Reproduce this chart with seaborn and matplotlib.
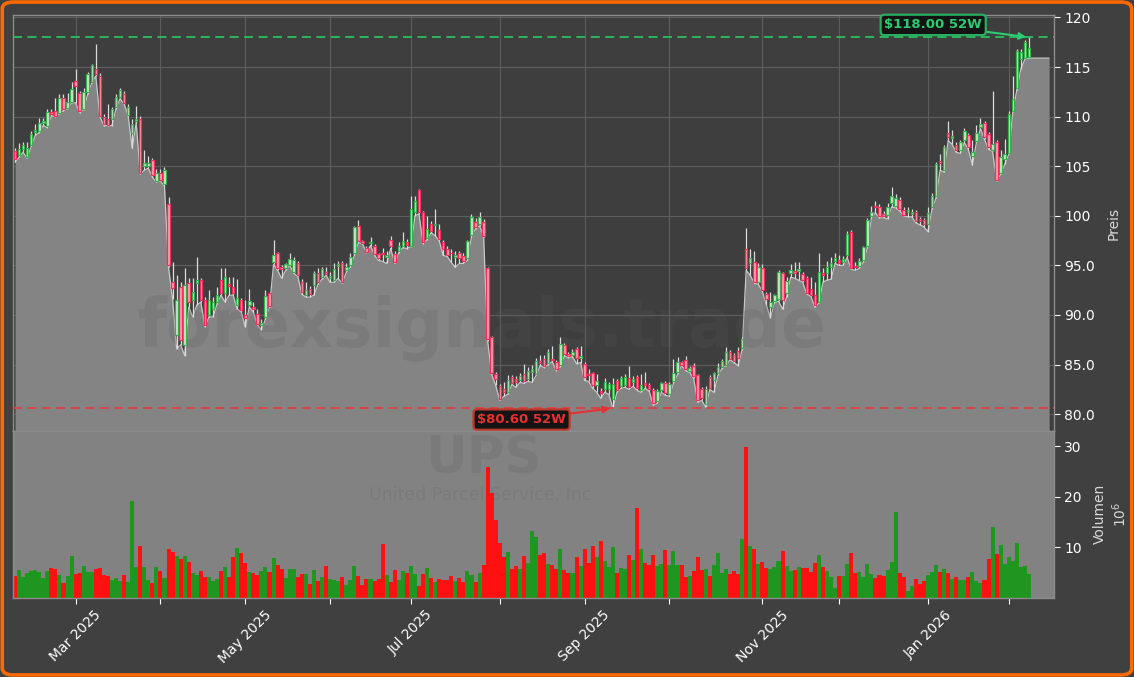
import numpy as np
import pandas as pd
import matplotlib
matplotlib.use("Agg")
import matplotlib.pyplot as plt
import seaborn as sns
from matplotlib.patches import FancyBboxPatch
from matplotlib.ticker import FixedLocator, FixedFormatter, FuncFormatter

# ---------------- data (UPS daily, Feb 2025 - Feb 2026) ----------------
opens = [
    106.5, 106.1, 106.7, 105.9, 107.1, 108.5, 108.6, 109.4, 109.1, 110.5,
    110.6, 110.4, 111.9, 110.9, 111.5, 113.6, 112.4, 110.8, 112.5, 113.5,
    114.8, 114.1, 110.0, 109.8, 109.8, 111.0, 112.0, 112.3, 110.2, 108.4,
    109.6, 109.8, 105.0, 105.0, 105.6, 103.5, 104.3, 103.2, 101.2, 93.3,
    88.0, 92.8, 87.0, 93.2, 91.5, 93.2, 93.5, 91.5, 90.0, 90.6,
    91.3, 93.5, 92.2, 93.1, 92.8, 91.0, 91.5, 90.0, 91.0, 90.8,
    90.1, 89.0, 89.8, 92.2, 95.3, 96.2, 94.8, 94.7, 95.0, 94.3,
    95.2, 93.3, 92.0, 92.6, 93.0, 94.2, 93.8, 94.3, 93.7, 93.5,
    94.9, 95.2, 94.5, 95.0, 96.2, 99.0, 97.5, 96.8, 97.3, 97.0,
    96.1, 96.2, 95.8, 97.6, 96.1, 96.5, 97.0, 97.4, 97.0, 100.4,
    102.6, 100.4, 97.8, 99.2, 99.1, 98.6, 97.4, 96.7, 96.3, 95.8,
    96.2, 95.9, 95.7, 98.1, 99.4, 99.2, 99.4, 94.7, 87.8, 84.0,
    82.8, 82.5, 82.2, 83.7, 83.5, 83.4, 84.0, 83.5, 84.3, 84.0,
    85.4, 85.6, 85.2, 85.6, 85.3, 85.0, 87.0, 86.1, 86.0, 86.6,
    85.7, 85.1, 84.0, 84.1, 82.9, 82.3, 82.5, 82.5, 81.5, 83.3,
    82.8, 82.9, 83.6, 83.2, 83.7, 82.4, 83.1, 82.9, 82.4, 81.3,
    82.4, 83.1, 82.0, 83.3, 84.3, 85.3, 85.5, 84.4, 84.9, 83.9,
    82.5, 81.0, 83.7, 83.4, 84.1, 84.8, 85.0, 86.3, 86.0, 86.4,
    86.7, 96.7, 95.2, 95.3, 93.3, 94.7, 92.1, 90.8, 91.4, 91.6,
    94.2, 92.2, 94.2, 94.4, 94.4, 94.1, 93.7, 92.6, 92.0, 91.3,
    94.2, 94.2, 94.8, 95.4, 95.5, 95.3, 96.0, 98.4, 94.9, 94.9,
    95.5, 97.0, 100.0, 101.0, 100.9, 100.2, 100.1, 101.3, 101.0, 101.6,
    100.6, 100.4, 100.2, 100.4, 99.7, 99.6, 99.2, 100.9, 102.0, 105.5,
    104.6, 108.4, 107.8, 107.1, 106.6, 107.6, 108.1, 106.0, 107.5, 109.0,
    109.4, 108.2, 106.6, 107.4, 104.3, 105.7, 106.3, 110.6, 112.9, 115.8,
    115.9, 116.0,
]
highs = [
    106.8, 107.3, 107.4, 107.4, 108.6, 109.3, 109.9, 109.9, 110.8, 110.8,
    111.9, 112.3, 112.3, 112.4, 113.5, 114.8, 112.6, 112.9, 114.5, 115.3,
    117.3, 114.4, 110.3, 111.3, 111.0, 112.3, 112.9, 112.6, 111.3, 109.8,
    111.1, 110.1, 106.6, 106.0, 105.8, 104.7, 104.7, 104.9, 101.9, 95.3,
    94.0, 93.3, 94.7, 93.7, 93.7, 95.8, 93.7, 91.8, 92.5, 91.8,
    92.8, 94.7, 94.7, 93.8, 93.8, 93.6, 91.7, 91.5, 92.6, 91.3,
    90.6, 89.6, 92.5, 92.3, 97.6, 96.4, 95.0, 95.2, 96.3, 95.8,
    95.4, 93.6, 93.3, 92.9, 94.4, 94.7, 94.8, 94.8, 94.3, 95.2,
    95.4, 95.4, 95.2, 96.2, 99.0, 99.6, 97.6, 97.0, 97.9, 97.2,
    96.3, 96.8, 96.5, 98.0, 96.5, 97.4, 98.4, 97.7, 102.0, 102.0,
    102.7, 100.5, 100.0, 99.5, 100.7, 99.2, 97.6, 97.0, 96.7, 96.5,
    96.5, 96.2, 97.6, 100.2, 99.8, 100.4, 99.7, 94.8, 87.9, 84.2,
    83.0, 83.2, 83.9, 83.9, 83.8, 84.1, 85.1, 84.8, 85.0, 85.7,
    86.0, 86.0, 86.6, 86.9, 85.5, 87.8, 87.2, 86.3, 86.6, 86.8,
    86.9, 85.3, 84.6, 84.3, 84.0, 82.6, 83.6, 83.2, 83.6, 83.5,
    83.8, 84.0, 84.9, 83.8, 83.9, 84.0, 84.2, 83.1, 82.6, 82.5,
    83.2, 83.3, 83.2, 85.6, 85.8, 85.4, 85.9, 84.9, 85.2, 84.0,
    82.7, 82.8, 83.9, 84.3, 85.2, 85.6, 86.8, 86.5, 86.2, 86.8,
    87.8, 98.8, 96.7, 96.5, 95.2, 95.1, 92.3, 92.3, 92.1, 94.5,
    94.3, 93.8, 95.1, 95.3, 95.3, 94.3, 93.9, 93.8, 93.3, 96.2,
    94.7, 95.4, 95.8, 96.3, 96.0, 95.9, 98.5, 98.6, 95.3, 95.7,
    97.0, 99.8, 101.0, 101.5, 101.2, 100.5, 101.3, 102.9, 102.2, 101.9,
    100.9, 100.9, 100.7, 100.6, 99.9, 99.8, 100.9, 102.3, 105.4, 106.2,
    107.1, 109.6, 108.7, 107.4, 107.6, 108.9, 108.4, 107.6, 109.2, 109.9,
    109.6, 108.5, 112.6, 107.6, 106.6, 107.7, 110.6, 114.1, 116.8, 116.8,
    117.7, 118.0,
]
lows = [
    105.4, 105.9, 106.4, 105.8, 107.0, 108.1, 108.4, 109.1, 108.9, 110.1,
    110.0, 110.3, 110.6, 110.8, 111.4, 111.4, 110.4, 110.7, 112.3, 113.4,
    114.1, 110.0, 109.1, 109.1, 109.1, 110.8, 111.8, 111.3, 110.1, 106.8,
    109.4, 104.2, 104.6, 104.8, 103.9, 103.4, 103.5, 103.0, 94.8, 91.6,
    86.6, 87.0, 85.9, 90.8, 89.8, 91.0, 91.3, 88.8, 89.8, 89.8,
    91.1, 92.0, 91.3, 92.0, 92.0, 90.6, 90.3, 88.8, 90.8, 90.3,
    89.0, 88.5, 89.6, 90.8, 95.1, 94.5, 93.7, 94.5, 95.0, 94.2,
    93.9, 92.1, 91.8, 91.8, 92.0, 93.1, 93.6, 94.0, 93.3, 93.3,
    93.7, 93.2, 94.3, 94.8, 96.0, 97.3, 97.2, 96.3, 97.0, 96.0,
    95.5, 95.4, 95.2, 96.7, 95.2, 96.3, 96.8, 96.7, 96.9, 100.0,
    100.2, 97.2, 97.6, 98.3, 98.0, 97.5, 96.0, 95.9, 95.3, 94.8,
    95.2, 95.2, 95.5, 97.9, 98.7, 99.0, 97.9, 87.4, 84.0, 82.9,
    81.4, 81.8, 82.0, 83.0, 82.7, 83.2, 83.1, 83.3, 83.2, 83.9,
    84.9, 84.7, 85.0, 85.3, 84.4, 84.8, 85.9, 85.7, 85.8, 85.1,
    85.2, 83.4, 83.3, 82.6, 82.2, 81.6, 82.2, 82.0, 80.6, 82.2,
    82.6, 82.7, 82.5, 82.8, 82.4, 82.2, 82.6, 82.3, 80.9, 81.1,
    82.2, 81.9, 81.8, 83.1, 84.0, 84.9, 84.4, 84.2, 83.6, 81.2,
    81.4, 80.7, 82.5, 82.2, 83.9, 84.6, 84.9, 85.5, 85.2, 84.9,
    86.5, 94.5, 94.0, 93.2, 93.1, 92.4, 91.0, 89.7, 91.2, 91.4,
    90.6, 91.8, 93.8, 93.7, 93.5, 93.3, 92.1, 91.9, 90.8, 91.2,
    93.3, 93.5, 93.6, 95.2, 95.0, 95.0, 95.8, 94.6, 94.5, 94.7,
    95.3, 96.8, 99.8, 100.3, 99.8, 99.8, 99.7, 100.9, 100.8, 100.5,
    100.0, 99.9, 99.9, 99.3, 99.1, 98.9, 98.4, 100.7, 101.8, 104.6,
    104.4, 107.6, 107.2, 106.4, 106.3, 107.4, 106.7, 105.1, 107.4, 108.8,
    107.7, 106.7, 106.5, 103.5, 104.2, 105.2, 106.2, 110.5, 112.7, 114.8,
    115.8, 115.9,
]
closes = [
    105.7, 106.7, 107.1, 106.8, 108.2, 108.7, 109.4, 109.6, 110.5, 110.3,
    110.1, 111.9, 110.8, 111.5, 112.8, 113.1, 110.6, 112.5, 114.3, 115.2,
    114.3, 110.1, 109.3, 109.2, 110.8, 112.0, 112.7, 111.4, 111.0, 109.3,
    109.8, 104.3, 105.3, 105.3, 104.1, 104.3, 103.6, 104.6, 95.0, 92.7,
    91.5, 87.5, 93.0, 91.3, 92.3, 93.5, 91.5, 89.0, 91.5, 91.3,
    92.0, 92.2, 93.8, 92.9, 92.2, 91.7, 90.5, 89.7, 91.4, 90.6,
    89.1, 89.2, 91.9, 90.9, 96.0, 94.7, 94.6, 95.1, 95.6, 95.5,
    94.0, 92.3, 92.5, 92.1, 94.2, 93.3, 94.6, 94.1, 93.9, 94.6,
    95.1, 93.3, 94.8, 95.8, 98.9, 97.5, 97.3, 96.4, 97.4, 96.1,
    95.7, 96.1, 96.0, 97.0, 95.3, 97.0, 97.5, 97.1, 100.7, 101.5,
    100.4, 97.4, 98.7, 98.5, 99.2, 97.7, 96.7, 96.0, 96.2, 96.0,
    95.7, 95.4, 97.5, 99.9, 98.9, 99.9, 98.0, 87.6, 84.1, 83.5,
    81.5, 82.2, 83.4, 83.1, 83.2, 83.8, 83.3, 84.4, 84.6, 85.4,
    85.2, 84.9, 86.3, 85.5, 84.6, 87.1, 86.1, 85.9, 86.3, 85.7,
    85.9, 83.7, 83.9, 82.9, 83.3, 82.1, 83.2, 83.0, 83.0, 82.4,
    83.6, 83.7, 82.7, 83.5, 82.6, 82.9, 82.9, 82.5, 81.1, 82.3,
    83.1, 82.1, 83.0, 84.1, 85.3, 85.0, 84.6, 84.7, 83.8, 81.4,
    81.6, 82.5, 82.6, 84.1, 84.8, 85.4, 86.3, 85.6, 85.4, 85.7,
    87.6, 94.7, 95.7, 93.3, 94.8, 92.5, 91.6, 91.3, 92.0, 94.3,
    91.5, 93.4, 94.5, 94.2, 94.6, 93.5, 92.2, 92.0, 91.0, 94.3,
    94.0, 94.8, 95.2, 95.7, 95.2, 95.6, 98.2, 94.7, 94.8, 95.4,
    96.9, 99.6, 100.4, 100.9, 100.0, 100.0, 100.9, 102.0, 101.8, 100.7,
    100.1, 100.6, 100.4, 99.5, 99.5, 99.2, 100.3, 102.0, 105.2, 105.3,
    106.9, 107.9, 108.0, 106.6, 107.4, 108.6, 106.9, 106.4, 108.4, 109.3,
    107.9, 106.9, 107.2, 103.6, 105.9, 106.2, 110.3, 111.8, 116.6, 116.5,
    117.5, 116.9,
]
volumes = [  # millions of shares
    4.3, 5.5, 4.1, 4.8, 5.3, 5.5, 5.0, 3.8, 5.3, 5.9, 5.7, 4.5, 2.9, 4.3, 8.3,
    4.6, 4.8, 6.3, 5.1, 5.1, 5.7, 5.9, 4.5, 4.2, 3.5, 3.9, 3.3, 4.5, 3.1, 19.1,
    6.1, 10.2, 6.1, 3.5, 2.8, 6.1, 5.3, 3.9, 9.6, 9.0, 8.3, 7.7, 8.3, 7.1, 4.9,
    4.5, 5.3, 4.1, 4.1, 3.3, 3.7, 5.3, 6.1, 4.1, 8.1, 9.8, 8.8, 6.9, 5.1, 4.9,
    4.5, 5.3, 6.1, 5.1, 7.9, 6.5, 5.7, 3.9, 5.7, 5.7, 4.1, 4.7, 4.7, 2.7, 5.5,
    3.3, 4.1, 6.3, 3.7, 3.5, 3.3, 4.1, 2.5, 3.5, 6.3, 4.3,
    2.5, 3.7, 3.7, 3.3, 3.7, 10.6, 4.5, 3.1, 5.5, 3.5, 5.3, 4.9, 6.3, 4.7, 2.3,
    4.7, 5.9, 3.9, 3.1, 3.7, 3.5, 3.5, 4.3, 3.3, 3.9, 3.1, 5.3, 4.5, 3.1, 4.9,
    6.5, 25.9, 20.7, 15.4, 10.8, 8.1, 9.0, 5.7, 6.3, 5.7, 8.3, 6.9, 13.2, 12.0,
    8.4, 8.8, 6.7, 6.5, 5.7, 9.6, 5.5, 4.9, 4.9, 8.1, 6.3, 9.6, 6.9, 10.2, 8.1,
    11.2, 7.3, 6.1, 10.0, 4.9, 5.9, 5.7, 8.4, 7.5, 17.8, 9.6, 6.9, 6.5, 8.4, 6.3,
    6.7, 9.4, 6.5, 9.2, 6.5, 6.5, 4.1, 4.3, 5.3, 8.1, 5.5, 5.7,
    4.3, 6.5, 8.8, 4.9, 5.7, 4.7, 5.3, 4.7, 11.6, 29.8, 10.2, 9.6, 6.7, 7.1, 5.9,
    5.7, 6.1, 7.3, 9.2, 6.3, 5.3, 5.5, 6.1, 5.9, 5.9, 5.1, 6.9, 8.4, 6.1, 5.3,
    4.1, 1.9, 4.3, 4.3, 6.7, 8.8, 4.9, 5.1, 4.1, 6.7, 4.7, 3.9, 4.5, 4.3, 5.5,
    7.1, 17.0, 4.9, 4.1, 1.3, 2.3, 3.7, 2.7, 3.3, 4.5, 5.1, 6.5, 5.1, 5.7, 4.9,
    3.7, 4.1, 3.5, 3.5, 4.1, 5.1, 3.3, 2.9, 3.5, 7.7, 14.0, 8.6, 10.4, 6.7, 8.1,
    7.3, 10.8, 6.1, 6.3, 4.7,
]
tick_positions = [15, 36, 57, 78, 98, 120, 141, 162, 185, 204, 226, 246]
tick_labels = ["Mar 2025", "", "May 2025", "", "Jul 2025", "", "Sep 2025", "",
               "Nov 2025", "", "Jan 2026", ""]
high_52w = 118.00
low_52w = 80.60
high_idx = 251
low_idx = 148

# ---------------- styling ----------------
BG = "#404040"
AX_BG = "#3e3e3e"
FILL = "#848484"
UP_EDGE, UP_FACE = "#38b04e", "#cfe6cf"
DN_EDGE, DN_FACE = "#f0305c", "#ffa0b2"
VOL_UP, VOL_DN = "#1f961f", "#ff1111"

sns.set_theme(style="dark")
plt.rcParams["font.family"] = ["DejaVu Sans"]

n = len(closes)
df = pd.DataFrame({"i": np.arange(n), "open": opens, "high": highs,
                   "low": lows, "close": closes, "volume": volumes})
df["dir"] = np.where(df["close"] >= df["open"], "up", "down")

fig = plt.figure(figsize=(11.34, 6.77), dpi=100, facecolor=BG)
L = 13 / 1134
W = (1054 - 13) / 1134
ax = fig.add_axes([L, 1 - 431 / 677, W, (431 - 15) / 677])
axv = fig.add_axes([L, 1 - 597.5 / 677, W, (597.5 - 431) / 677], sharex=ax)

ax.set_facecolor(AX_BG)
axv.set_facecolor("#828282")

# area under the lows, carried to the right edge
ymin, ymax = 78.3, 120.25
x_ext = list(df["i"]) + [n + 4]
y_ext = list(df["low"]) + [lows[-1]]
ax.fill_between(x_ext, y_ext, ymin, color=FILL, zorder=1, lw=0)
sns.lineplot(x=x_ext, y=y_ext, ax=ax, color="#c9c9c9", lw=0.9, zorder=1.5)

# watermark
ax.text(0.451, 0.248, "forexsignals.trade", transform=ax.transAxes,
        ha="center", va="center", fontsize=48, fontweight="bold",
        color="#5a5a5a", alpha=0.2, zorder=2)

# candles
up = df["dir"] == "up"
ax.vlines(df["i"], df["low"], df["high"], color="#dcdcdc", lw=0.9, zorder=3)
body_lo = np.minimum(df["open"], df["close"])
body_h = np.maximum(np.abs(df["close"] - df["open"]), 0.08)
ax.bar(df["i"][up], body_h[up], bottom=body_lo[up], width=0.62,
       color=UP_FACE, edgecolor=UP_EDGE, lw=0.9, zorder=4)
ax.bar(df["i"][~up], body_h[~up], bottom=body_lo[~up], width=0.62,
       color=DN_FACE, edgecolor=DN_EDGE, lw=0.9, zorder=4)

# 52-week lines and labels
ax.axhline(high_52w, color="#2bbf5c", ls=(0, (5, 3)), lw=1.3, zorder=5)
ax.axhline(low_52w, color="#e04040", ls=(0, (5, 3)), lw=1.3, zorder=5)
ax.annotate(r"\$%.2f 52W" % high_52w, xy=(high_idx, high_52w),
            xytext=(227.3, 119.25), ha="center", va="center",
            fontsize=9.5, fontweight="bold", color="#2ecc71", zorder=6,
            bbox=dict(boxstyle="round,pad=0.28", fc="#141414", ec="#27ae60", lw=1.6),
            arrowprops=dict(arrowstyle="-|>", color="#2ecc71", lw=1.5,
                            shrinkA=0, shrinkB=2, mutation_scale=10))
ax.annotate(r"\$%.2f 52W" % low_52w, xy=(low_idx, low_52w),
            xytext=(125.4, 79.45), ha="center", va="center",
            fontsize=9.5, fontweight="bold", color="#e83030", zorder=6,
            bbox=dict(boxstyle="round,pad=0.28", fc="#141414", ec="#c0392b", lw=1.6),
            arrowprops=dict(arrowstyle="-|>", color="#e83030", lw=1.5,
                            shrinkA=0, shrinkB=2, mutation_scale=10))

ax.set_ylim(ymin, ymax)
ax.set_xlim(-0.5, 257.2)
ax.yaxis.tick_right()
ax.yaxis.set_label_position("right")
ax.set_yticks([80, 85, 90, 95, 100, 105, 110, 115, 120])
ax.yaxis.set_major_formatter(FuncFormatter(
    lambda v, p: f"{v:.0f}" if v >= 100 else f"{v:.1f}"))
ax.set_ylabel("Preis", color="#d8d8d8", fontsize=10, labelpad=8)
ax.tick_params(axis="y", colors="white", labelsize=10, length=4, width=0.8,
               direction="out", right=True, left=False)
ax.tick_params(axis="x", labelbottom=False, length=0)
ax.grid(True, color="#5e5e5e", lw=0.8, zorder=0)
ax.set_axisbelow(True)
for s in ax.spines.values():
    s.set_color("#8c8c8c")
    s.set_linewidth(1.0)

# volume
sns.barplot(data=df, x="i", y="volume", hue="dir", ax=axv, native_scale=True,
            palette={"up": VOL_UP, "down": VOL_DN}, dodge=False, width=1.0,
            saturation=1, linewidth=0, errorbar=None, legend=False, zorder=2)
axv.text(483 / 1134, 1 - 460 / 677, "UPS", transform=fig.transFigure,
         ha="center", va="center", fontsize=37, fontweight="bold",
         color="#5a5a5a", alpha=0.18, zorder=0.5)
axv.text(480 / 1134, 1 - 495 / 677, "United Parcel Service, Inc",
         transform=fig.transFigure, ha="center", va="center", fontsize=12.5,
         color="#5a5a5a", alpha=0.18, zorder=0.5)
axv.set_ylim(0, 33)
axv.set_xlim(-0.5, 257.2)
axv.yaxis.tick_right()
axv.yaxis.set_label_position("right")
axv.set_yticks([10, 20, 30])
axv.set_ylabel("Volumen\n$10^6$", color="#d8d8d8", fontsize=10, labelpad=8)
axv.set_xlabel("")
axv.grid(False)
axv.xaxis.set_major_locator(FixedLocator(tick_positions))
axv.xaxis.set_major_formatter(FixedFormatter(tick_labels))
axv.tick_params(axis="y", colors="white", labelsize=10, length=4, width=0.8,
                right=True, left=False)
axv.tick_params(axis="x", colors="white", labelsize=10, length=4, width=0.8,
                bottom=True, labelrotation=45)
for lab in axv.get_xticklabels():
    lab.set_ha("center")
for s in axv.spines.values():
    s.set_color("#8c8c8c")
    s.set_linewidth(1.0)

# orange rounded frame
fig.patches.append(FancyBboxPatch((0.002, 0.003), 0.996, 0.994,
                                  boxstyle="round,pad=0,rounding_size=0.01",
                                  transform=fig.transFigure, fill=False,
                                  ec="#ff6a00", lw=2.6))

fig.savefig("out.png", dpi=100, facecolor=BG)
